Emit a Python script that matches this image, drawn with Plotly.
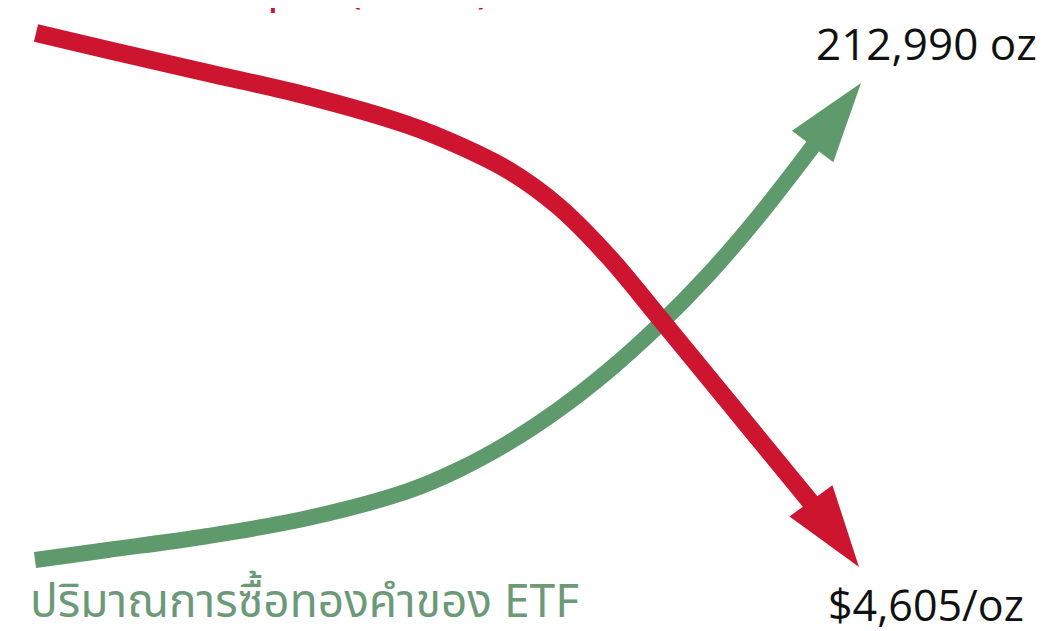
import plotly.graph_objects as go

# Series (arbitrary units: x = time index, y = relative level)
red_x = [2.8, 10, 20, 30, 40, 45, 50, 55, 60, 65, 70, 75, 81.4]
red_y = [60.6, 58.9, 56.6, 54.3, 51.4, 49.4, 46.9, 43.3, 38.3, 32.3, 26.2, 20.1, 12.3]
red_tip = [85.1, 7.2]

green_x = [2.7, 10, 20, 30, 40, 45, 50, 55, 60, 65, 70, 75, 81.8]
green_y = [7.9, 8.9, 10.3, 12.1, 14.8, 16.9, 19.6, 22.9, 26.8, 31.3, 36.4, 42.2, 51.0]
green_tip = [85.3, 55.6]

label_top = "212,990 oz"
label_bottom = "$4,605/oz"
label_green = "ปริมาณการซื้อทองคำของ ETF"
label_red = "ราคาทองคำ Spot (ร่วงลง)"

RED = "#CE1530"
GREEN = "#5E9A6C"

fig = go.Figure()
fig.add_trace(go.Scatter(x=green_x, y=green_y, mode="lines",
                         line=dict(color=GREEN, width=16, shape="spline", smoothing=1.0),
                         hoverinfo="skip"))
fig.add_trace(go.Scatter(x=[green_x[-1], green_tip[0]], y=[green_y[-1], green_tip[1]], mode="markers",
                         marker=dict(symbol="arrow", size=[0, 84], color=GREEN, angleref="previous",
                                     opacity=1, line=dict(width=0)),
                         hoverinfo="skip"))
fig.add_trace(go.Scatter(x=red_x, y=red_y, mode="lines",
                         line=dict(color=RED, width=18, shape="spline", smoothing=1.0),
                         hoverinfo="skip"))
fig.add_trace(go.Scatter(x=[red_x[-1], red_tip[0]], y=[red_y[-1], red_tip[1]], mode="markers",
                         marker=dict(symbol="arrow", size=[0, 86], color=RED, angleref="previous",
                                     opacity=1, line=dict(width=0)),
                         hoverinfo="skip"))

fig.add_annotation(x=91.8, y=59.6, text=label_top, showarrow=False,
                   font=dict(family="Open Sans, sans-serif", size=44, color="#111111"))
fig.add_annotation(x=91.8, y=3.5, text=label_bottom, showarrow=False,
                   font=dict(family="Open Sans, sans-serif", size=43, color="#111111"))
fig.add_annotation(x=2.0, y=3.6, text=label_green, showarrow=False, xanchor="left",
                   font=dict(family="Noto Sans Thai, Noto Sans, sans-serif", size=46, color="#6C9A78"))
fig.add_annotation(x=1.7, y=61.5, text=label_red, showarrow=False, xanchor="left", yanchor="bottom",
                   font=dict(family="Noto Sans Thai, Noto Sans, sans-serif", size=44, color=RED))

fig.update_layout(
    width=1051, height=631,
    margin=dict(l=0, r=0, t=0, b=0),
    paper_bgcolor="white", plot_bgcolor="white",
    showlegend=False,
    xaxis=dict(range=[0, 105.1], visible=False, fixedrange=True),
    yaxis=dict(range=[0, 63.1], visible=False, fixedrange=True),
)
fig.write_html("out.html")
